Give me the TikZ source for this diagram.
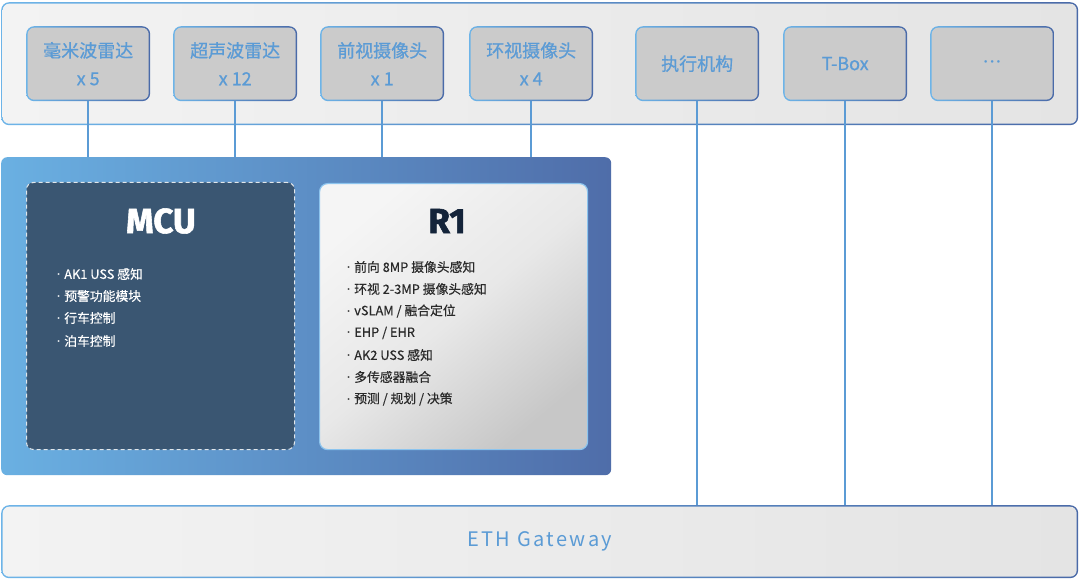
\documentclass[tikz,border=0pt]{standalone}
\usepackage{fontspec}
\setmainfont{Noto Sans CJK SC}
\newfontfamily\headfont{Fira Sans}[BoldFeatures={FakeBold=1.6}]
\newfontfamily\dotfont{Fira Sans}
\newfontfamily\labfont{Noto Sans CJK SC}[FakeBold=0.7]
\newfontfamily\itemfont{Noto Sans CJK SC}[FakeBold=0.3]
\newfontfamily\ethfont{Noto Sans CJK SC}[LetterSpace=12]
\newcommand\bul{{\dotfont ·}\hspace{4pt}}
\definecolor{bl}{HTML}{6DB4E8}
\definecolor{bd}{HTML}{4A6AA8}
\definecolor{pl}{HTML}{F3F3F3}
\definecolor{pr}{HTML}{E4E4E4}
\definecolor{boxg}{HTML}{CBCBCB}
\definecolor{tb}{HTML}{5B9BD5}
\definecolor{lc}{HTML}{5B9BD5}
\definecolor{ml}{HTML}{6AB0E2}
\definecolor{mr}{HTML}{4F6DA9}
\definecolor{mcuf}{HTML}{3A5672}
\definecolor{rnavy}{HTML}{14243A}
\definecolor{ritem}{HTML}{2A2A2A}
\definecolor{rb}{HTML}{8CC4EE}
\newcommand\gframe[7]{%
  \node[outerf, minimum width=#4pt, minimum height=#5pt] (#1) at (#2,#3) {};
  \node[#6, minimum width=#4pt-3pt, minimum height=#5pt-3pt] (#1-in) at (#1.center) {#7};
}
\begin{document}
\begin{tikzpicture}[x=1pt,y=-1pt,
  outerf/.style={rectangle, rounded corners=8pt, inner sep=0pt, anchor=north west, left color=bl, right color=bd, draw=none},
  panel/.style={rectangle, rounded corners=6.5pt, inner sep=0pt, anchor=center, left color=pl, right color=pr, draw=none},
  chip/.style={rectangle, rounded corners=6.5pt, inner sep=0pt, anchor=center, fill=boxg, draw=none, text=tb, align=center, font=\labfont\fontsize{18}{28}\selectfont},
  link/.style={draw=lc, line width=1.5pt},
  mitem/.style={anchor=west, inner sep=0pt, text=white, font=\itemfont\fontsize{12.8}{14}\selectfont},
  ritemst/.style={anchor=west, inner sep=0pt, text=ritem, font=\itemfont\fontsize{12.8}{14}\selectfont},
]
\useasboundingbox (0,0) rectangle (1080,580);
\fill[white] (0,0) rectangle (1080,580);

% top container
\gframe{top}{1}{2}{1077}{123}{panel}{}

% sensor / device boxes
\gframe{b1}{26}{26}{124}{75}{chip}{毫米波雷达\\x 5}
\gframe{b2}{173}{26}{124}{75}{chip}{超声波雷达\\x 12}
\gframe{b3}{320}{26}{124}{75}{chip}{前视摄像头\\x 1}
\gframe{b4}{469}{26}{124}{75}{chip}{环视摄像头\\x 4}
\gframe{b5}{635}{26}{124}{75}{chip}{执行机构}
\gframe{b6}{783}{26}{124}{75}{chip}{T-Box}
\gframe{b7}{930}{26}{124}{75}{chip}{{\dotfont\fontsize{18}{20}\selectfont ·\hspace{2pt}·\hspace{2pt}·}}

% main block
\node[rectangle, rounded corners=6pt, inner sep=0pt, anchor=north west,
      left color=ml, right color=mr, minimum width=610pt, minimum height=318pt] (main) at (1,157) {};

% MCU
\node[rectangle, rounded corners=7pt, inner sep=0pt, anchor=north west, fill=mcuf,
      draw=white!85!mcuf, line width=1pt, dash pattern=on 4pt off 3pt,
      minimum width=268pt, minimum height=267pt] (mcu) at (26,182) {};
\node[text=white, inner sep=0pt, font=\headfont\bfseries\fontsize{35}{40}\selectfont] (mcut) at (161,221) {MCU};
\node[mitem] (m1) at (57,274) {\bul AK1 USS 感知};
\node[mitem] (m2) at (57,296) {\bul 预警功能模块};
\node[mitem] (m3) at (57,318) {\bul 行车控制};
\node[mitem] (m4) at (57,341) {\bul 泊车控制};

% R1
\node[rectangle, rounded corners=8pt, inner sep=0pt, anchor=north west,
      top color=white!96!black, bottom color=black!22, middle color=white!91!black, shading angle=40,
      draw=rb, line width=1.2pt,
      minimum width=268pt, minimum height=266pt] (r1) at (319,183) {};
\node[text=rnavy, inner sep=0pt, font=\headfont\bfseries\fontsize{35}{40}\selectfont] (r1t) at (447,221) {R1};
\node[ritemst] (r1a) at (347,267) {\bul 前向 8MP 摄像头感知};
\node[ritemst] (r1b) at (347,289) {\bul 环视 2-3MP 摄像头感知};
\node[ritemst] (r1c) at (347,311) {\bul vSLAM / 融合定位};
\node[ritemst] (r1d) at (347,333) {\bul EHP / EHR};
\node[ritemst] (r1e) at (347,355) {\bul AK2 USS 感知};
\node[ritemst] (r1f) at (347,377) {\bul 多传感器融合};
\node[ritemst] (r1g) at (347,399) {\bul 预测 / 规划 / 决策};

% gateway
\gframe{gw}{1}{505}{1077}{73}{panel, text=tb, font=\ethfont\fontsize{20}{24}\selectfont}{ETH Gateway}

% connectors
\draw[link] (b1.south) -- (b1.south |- main.north);
\draw[link] (b2.south) -- (b2.south |- main.north);
\draw[link] (b3.south) -- (b3.south |- main.north);
\draw[link] (b4.south) -- (b4.south |- main.north);
\draw[link] (b5.south) -- (b5.south |- gw.north);
\draw[link] (b6.south) -- (b6.south |- gw.north);
\draw[link] (b7.south) -- (b7.south |- gw.north);
\end{tikzpicture}
\end{document}
